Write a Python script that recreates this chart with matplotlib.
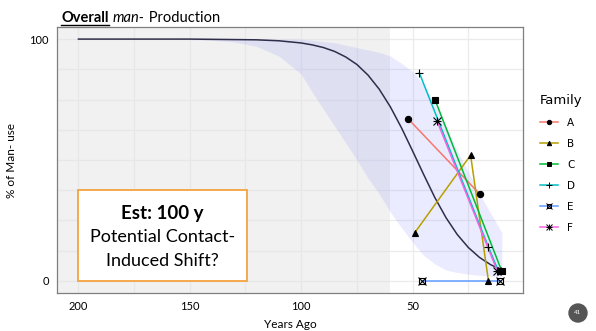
import numpy as np
import matplotlib
matplotlib.use('Agg')
import matplotlib.pyplot as plt
from matplotlib.lines import Line2D
from matplotlib.patches import Rectangle, Circle
from matplotlib.transforms import IdentityTransform

plt.rcParams.update({'font.family': ['Lato', 'DejaVu Sans'], 'figure.dpi': 100})

# fitted curve and its band
fit_years = [200, 180, 160, 150, 140, 130, 120, 110, 100, 95, 90, 85, 80, 75,
             70, 65, 60, 55, 50, 45, 40, 35, 30, 25, 20, 15, 10]
fit_mid = [100, 100, 100, 100, 99.9, 99.8, 99.7, 99.3, 98.4, 97.6, 96.5, 94.9, 92.6, 89.5,
           85.1, 79.3, 72.0, 63.3, 53.7, 43.9, 34.4, 26.1, 19.2, 13.8, 9.7, 6.7, 4.6]
fit_hi = [100, 100, 100, 100, 100, 100, 100, 100, 100, 99.5, 99, 98.5, 97.5, 96.5,
          95.5, 94.5, 93, 90, 86.5, 81, 73, 64, 54, 45, 36, 28, 20]
fit_lo = [100, 100, 100, 99.8, 99.5, 98.8, 97, 93, 85.5, 78, 71, 64, 57, 50,
          42.5, 36, 28.5, 22, 16, 10.5, 7, 4.5, 3.5, 2.8, 2.3, 2, 2]

# families
families = ['A', 'B', 'C', 'D', 'E', 'F']
fam_years = {'A': [52, 20], 'B': [16, 24, 49], 'C': [40, 10], 'D': [47, 16, 11.5],
             'E': [46, 11], 'F': [39, 12]}
fam_vals = {'A': [67, 36], 'B': [0, 52, 20], 'C': [75, 4], 'D': [86, 14, 4],
            'E': [0, 0], 'F': [66, 4]}
fam_colors = ['#F8766D', '#B79F00', '#00BA38', '#00BFC4', '#619CFF', '#F564E3']
# ggplot shapes 16,17,15,3,7,8 -> one or two matplotlib markers overlaid
fam_markers = [['o'], ['^'], ['s'], ['+'], ['s', 'x'], ['+', 'x']]

contact_start = 60

fig = plt.figure(figsize=(5.96, 3.31))
ax = fig.add_axes([57 / 596, 1 - 293 / 331, 466 / 596, 266 / 331])
ax.set_xlim(209.5, 0.5)
ax.set_ylim(-5, 105)

# grid
for gx in np.arange(0, 201, 25):
    ax.axvline(gx, color='#ebebeb', lw=0.9, zorder=0)
for gy in np.arange(0, 101, 12.5):
    ax.axhline(gy, color='#ebebeb', lw=0.9, zorder=0)

ax.axvspan(209.5, contact_start, color='#e4e4e4', alpha=0.5, lw=0, zorder=0.5)
ax.fill_between(fit_years, fit_lo, fit_hi, color=(0.45, 0.45, 1.0), alpha=0.14, lw=0, zorder=1)
ax.plot(fit_years, fit_mid, color='#2e2e4a', lw=1.1, zorder=2, solid_capstyle='round')

handles = []
for fam, col, mks in zip(families, fam_colors, fam_markers):
    ax.plot(fam_years[fam], fam_vals[fam], color=col, lw=1.1, zorder=3)
    parts = []
    for i, m in enumerate(mks):
        mfc = 'none' if (m == 's' and len(mks) > 1) else 'black'
        ms = 6 if m in ('+', 'x') else 4.5
        ax.plot(fam_years[fam], fam_vals[fam], ls='none', marker=m, ms=ms, mec='black',
                mfc=mfc, mew=0.8, zorder=4)
        parts.append(Line2D([], [], color=col if i == 0 else 'none', lw=1.1,
                            marker=m, ms=ms * 0.7, mec='black', mfc=mfc, mew=0.7))
    handles.append(tuple(parts) if len(parts) > 1 else parts[0])

for s in ax.spines.values():
    s.set_color('#7f7f7f')
    s.set_linewidth(0.9)

ax.set_xticks([200, 150, 100, 50])
ax.set_xticklabels(['200', '150', '100', '50'])
ax.set_yticks([0, 100])
ax.set_yticklabels(['0', '100'])
ax.tick_params(length=0, labelsize=8, pad=6, labelcolor='black')
ax.set_xlabel('Years Ago', fontsize=8.5, labelpad=5)
ax.set_ylabel('% of Man- use', fontsize=8.5, labelpad=9)

# annotation box
ax.add_patch(Rectangle((200.3, 0), -76, 37.8, facecolor='white', edgecolor='#f4a33f',
                       lw=1.3, zorder=5))
ax.text(162.2, 28.0, 'Est: 100 y', ha='center', va='center', fontsize=13.5,
        fontweight='bold', zorder=6)
ax.text(162.2, 18.2, 'Potential Contact-', ha='center', va='center', fontsize=13, zorder=6)
ax.text(162.2, 8.3, 'Induced Shift?', ha='center', va='center', fontsize=13, zorder=6)

leg = fig.legend(handles, families, title='Family', loc='upper left',
                 bbox_to_anchor=(536 / 596, 1 - 90 / 331), frameon=False,
                 fontsize=7.5, title_fontsize=9.5, labelspacing=1.05,
                 handlelength=1.7, handletextpad=0.9, borderaxespad=0)
leg._legend_box.align = 'left'
for t in leg.get_texts():
    t.set_family(['DejaVu Sans'])
leg.get_title().set_family(['DejaVu Sans'])

# title with underlined bold word
fig.canvas.draw()
r = fig.canvas.get_renderer()
ty = 1 - 22 / 331
t1 = fig.text(61 / 596, ty, 'Overall', fontsize=10.5, fontweight='bold', va='baseline')
bb = t1.get_window_extent(r)
fig.add_artist(Line2D([bb.x0 / 596, bb.x1 / 596], [1 - 24.5 / 331] * 2, color='black', lw=1))
t2 = fig.text((bb.x1 + 4) / 596, ty, 'man-', fontsize=10.5, style='italic', va='baseline')
bb2 = t2.get_window_extent(r)
fig.text((bb2.x1 + 1) / 596, ty, ' Production', fontsize=10.5, va='baseline')

# slide number
fig.add_artist(Circle((578, 331 - 313), 9, transform=IdentityTransform(), color='#555555'))
fig.text(578 / 596, 1 - 313 / 331, '41', color='white', fontsize=4.5, ha='center', va='center')

fig.savefig('out.png', dpi=100)
